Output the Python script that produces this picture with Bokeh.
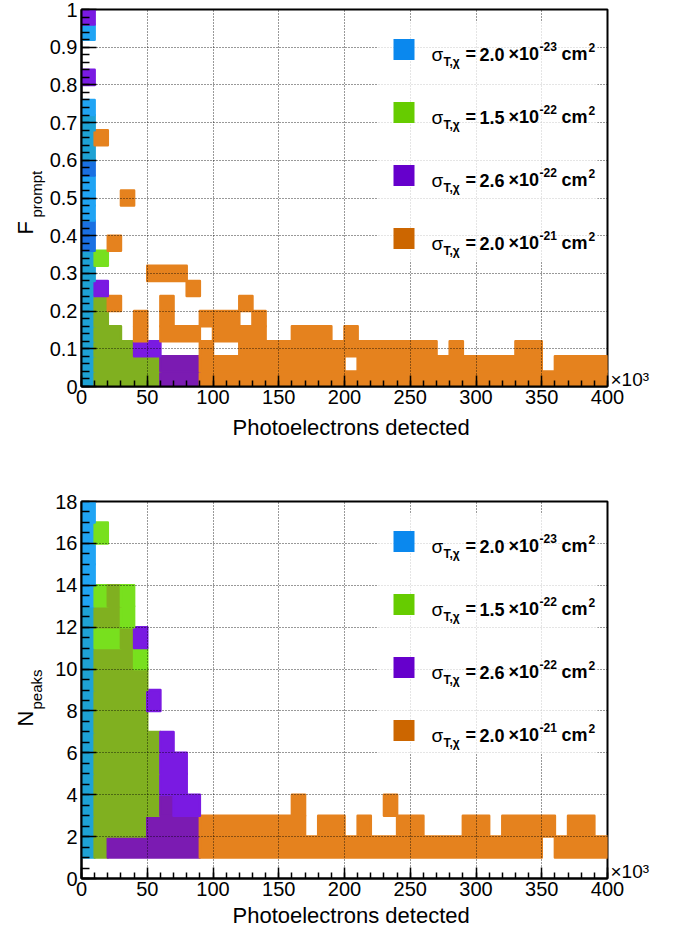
import numpy as np
from bokeh.plotting import figure
from bokeh.models import Range1d, FixedTicker, Label, BoxAnnotation, ColumnDataSource
from bokeh.layouts import column
from bokeh.embed import file_html
from bokeh.resources import INLINE

FONT = "Liberation Sans"

# ---------------- axis ticks / labels ----------------
x_ticks = [0, 50, 100, 150, 200, 250, 300, 350, 400]
x_tick_labels = ["0", "50", "100", "150", "200", "250", "300", "350", "400"]
x_minor = list(range(0, 401, 10))
f_ticks = [0, 0.1, 0.2, 0.3, 0.4, 0.5, 0.6, 0.7, 0.8, 0.9, 1.0]
f_tick_labels = ["0", "0.1", "0.2", "0.3", "0.4", "0.5", "0.6", "0.7", "0.8", "0.9", "1"]
f_minor = [round(i * 0.02, 2) for i in range(51)]
n_ticks = [0, 2, 4, 6, 8, 10, 12, 14, 16, 18]
n_tick_labels = ["0", "2", "4", "6", "8", "10", "12", "14", "16", "18"]
n_minor = [i * 0.5 for i in range(37)]

# ---------------- legend ----------------
legend_values = ["2.0", "1.5", "2.6", "2.0"]
legend_exponents = ["-23", "-22", "-22", "-21"]

# ---------------- F_prompt histogram cells (x in 10^3 PE) ----------------
fp_blue_x0 = [0, 0]
fp_blue_x1 = [10, 10]
fp_blue_y0 = [0.00, 0.92]
fp_blue_y1 = [0.76, 0.96]

fp_green_x0 = [0, 0, 10, 10, 20, 30, 40]
fp_green_x1 = [10, 10, 20, 20, 30, 40, 60]
fp_green_y0 = [0.00, 0.60, 0.00, 0.32, 0.00, 0.00, 0.00]
fp_green_y1 = [0.36, 0.72, 0.24, 0.36, 0.16, 0.12, 0.08]

fp_purple_x0 = [0, 0, 0, 0, 10, 20, 30, 40, 60]
fp_purple_x1 = [10, 10, 10, 10, 20, 30, 40, 60, 90]
fp_purple_y0 = [0.36, 0.56, 0.80, 0.96, 0.00, 0.00, 0.00, 0.00, 0.00]
fp_purple_y1 = [0.44, 0.60, 0.84, 1.00, 0.28, 0.16, 0.12, 0.12, 0.08]

fp_orange_x0 = [10, 20, 20, 30, 40, 50, 60, 70, 80, 60,
                90, 90, 100, 100, 120, 120, 130, 140, 160, 190,
                200, 200, 210, 270, 280, 290, 330, 350, 360]
fp_orange_x1 = [20, 30, 30, 40, 50, 80, 70, 90, 90, 90,
                100, 100, 120, 120, 130, 130, 140, 160, 190, 200,
                210, 210, 270, 280, 290, 330, 350, 360, 400]
fp_orange_y0 = [0.64, 0.20, 0.36, 0.48, 0.12, 0.28, 0.12, 0.12, 0.24, 0.00,
                0.00, 0.16, 0.00, 0.12, 0.00, 0.20, 0.00, 0.00, 0.00, 0.00,
                0.00, 0.08, 0.00, 0.00, 0.00, 0.00, 0.00, 0.00, 0.00]
fp_orange_y1 = [0.68, 0.24, 0.40, 0.52, 0.20, 0.32, 0.24, 0.16, 0.28, 0.08,
                0.12, 0.20, 0.08, 0.20, 0.16, 0.24, 0.20, 0.12, 0.16, 0.12,
                0.04, 0.16, 0.12, 0.08, 0.12, 0.08, 0.12, 0.04, 0.08]

# ---------------- N_peaks histogram cells ----------------
np_blue_x0 = [0]
np_blue_x1 = [10]
np_blue_y0 = [1]
np_blue_y1 = [18]

np_green_x0 = [0, 10, 10, 20, 40, 50]
np_green_x1 = [10, 20, 20, 40, 50, 60]
np_green_y0 = [1, 1, 16, 2, 2, 3]
np_green_y1 = [13, 14, 17, 14, 11, 7]

np_purple_x0 = [10, 10, 20, 20, 30, 40, 40, 50, 50, 60, 70, 80]
np_purple_x1 = [20, 20, 30, 30, 40, 50, 50, 60, 60, 70, 80, 90]
np_purple_y0 = [1, 12, 1, 12, 1, 1, 11, 1, 8, 1, 1, 1]
np_purple_y1 = [11, 13, 11, 14, 12, 10, 12, 7, 9, 7, 6, 4]

np_orange_x0 = [20, 60, 70, 160, 170, 180, 200, 210, 220, 230, 230, 240, 260, 290, 310, 320, 350, 360, 370, 390]
np_orange_x1 = [60, 70, 160, 170, 180, 200, 210, 220, 230, 240, 240, 260, 290, 310, 320, 350, 360, 370, 390, 400]
np_orange_y0 = [1, 1, 1, 1, 1, 1, 1, 1, 1, 1, 3, 1, 1, 1, 1, 1, 2, 1, 1, 1]
np_orange_y1 = [3, 4, 3, 4, 2, 3, 2, 3, 2, 2, 4, 3, 2, 3, 2, 3, 3, 2, 3, 2]

# ---------------- styling ----------------
# drawn colour of a bin, keyed by the top two histograms present in it (top first)
COMBO = {
    ("orange",): "#e5821e",
    ("purple",): "#7a1ae2",
    ("purple", "orange"): "#7b1bb2",
    ("green",): "#78e01e",
    ("green", "purple"): "#80b020",
    ("green", "orange"): "#8cc81e",
    ("blue",): "#20a4f4",
    ("blue", "green"): "#1ea2d4",
    ("blue", "purple"): "#1a70e2",
    ("blue", "orange"): "#3c9be0",
}
LEG = {"blue": "#0a88ee", "green": "#66cc00", "purple": "#6600cc", "orange": "#cc6600"}
FW, FH = 526, 377
LEFT, RIGHT = 81, 73
TOP_FIRST = ["blue", "green", "purple", "orange"]


def to_data(dx, dy, ymax):
    return dx * 400.0 / FW, ymax * (1.0 - dy / FH)


def make_label(ymax, dx, dy, s, size, style="normal", angle=0.0, baseline="alphabetic"):
    x, y = to_data(dx, dy, ymax)
    return Label(x=x, y=y, text=s, text_font=FONT, text_font_size=f"{size}px",
                 text_font_style=style, text_baseline=baseline, text_align="left",
                 angle=angle, text_color="black")


def make_fig(ymax, height, top, bottom, yticks, ylabels, yminor):
    p = figure(width=680, height=height, x_range=Range1d(0, 400), y_range=Range1d(0, ymax),
               output_backend="svg", toolbar_location=None,
               min_border_left=LEFT, min_border_right=RIGHT,
               min_border_top=top, min_border_bottom=bottom)
    p.background_fill_color = "white"
    p.border_fill_color = "white"
    p.outline_line_color = "black"
    p.outline_line_width = 2
    p.xaxis.ticker = FixedTicker(ticks=x_ticks, minor_ticks=x_minor)
    p.xaxis.major_label_overrides = dict(zip(x_ticks, x_tick_labels))
    p.yaxis.ticker = FixedTicker(ticks=yticks, minor_ticks=yminor)
    p.yaxis.major_label_overrides = dict(zip(yticks, ylabels))
    for ax in (p.xaxis[0], p.yaxis[0]):
        ax.axis_line_width = 2
        ax.axis_line_color = "black"
        ax.major_tick_line_width = 1.5
        ax.minor_tick_line_width = 1.5
        ax.major_tick_out = 0
        ax.minor_tick_out = 0
        ax.major_label_text_font = FONT
        ax.major_label_text_font_size = "20px"
        ax.major_label_text_color = "black"
    p.xaxis.major_tick_in = 11
    p.xaxis.minor_tick_in = 6
    p.yaxis.major_tick_in = 15
    p.yaxis.minor_tick_in = 8
    p.xaxis.major_label_standoff = 3
    p.yaxis.major_label_standoff = 4
    p.grid.grid_line_color = "black"
    p.grid.grid_line_dash = "1 2"
    p.grid.grid_line_alpha = 0.8
    p.grid.grid_line_width = 1
    p.grid.level = "guide"
    return p


def draw_histograms(p, series, xbin, ybin, nx, ny):
    """Overlay the four 2D histograms on their common bin grid."""
    masks = {}
    for key, (x0, x1, y0, y1) in series.items():
        m = np.zeros((nx, ny), dtype=bool)
        for a, b, c, d in zip(x0, x1, y0, y1):
            m[int(round(a / xbin)):int(round(b / xbin)), int(round(c / ybin)):int(round(d / ybin))] = True
        masks[key] = m
    colors = [[None] * ny for _ in range(nx)]
    for i in range(nx):
        for j in range(ny):
            present = [k for k in TOP_FIRST if masks[k][i, j]]
            if present:
                key = tuple(present[:2])
                colors[i][j] = COMBO.get(key, COMBO[(present[0],)])
    L, R, B, T, C = [], [], [], [], []
    for j in range(ny):
        i = 0
        while i < nx:
            col = colors[i][j]
            if col is None:
                i += 1
                continue
            k = i
            while k + 1 < nx and colors[k + 1][j] == col:
                k += 1
            L.append(i * xbin)
            R.append((k + 1) * xbin)
            B.append(j * ybin)
            T.append((j + 1) * ybin)
            C.append(col)
            i = k + 1
    src = ColumnDataSource(dict(left=L, right=R, bottom=B, top=T, color=C))
    p.quad(left="left", right="right", bottom="bottom", top="top", source=src,
           fill_color="color", line_color="color", line_width=2.5, line_join="round")


def add_legend(p, ymax):
    x0, y0 = to_data(296, 12, ymax)
    x1, y1 = to_data(516, 252, ymax)
    p.add_layout(BoxAnnotation(left=x0, right=x1, top=y0, bottom=y1, fill_color="white",
                               fill_alpha=0.75, line_color=None, level="annotation"))
    for i, key in enumerate(["blue", "green", "purple", "orange"]):
        c = 40 + 63 * i
        lx, ty = to_data(312, c - 10.5, ymax)
        rx, by = to_data(333, c + 10.5, ymax)
        p.add_layout(BoxAnnotation(left=lx, right=rx, top=ty, bottom=by, fill_color=LEG[key],
                                   fill_alpha=1.0, line_color=None, level="annotation"))
        p.add_layout(make_label(ymax, 350, c + 4.5, "σ", 19))
        p.add_layout(make_label(ymax, 362, c + 12, "T,χ", 12, "bold"))
        p.add_layout(make_label(ymax, 384, c + 4.5, "=", 18, "bold"))
        p.add_layout(make_label(ymax, 398, c + 4.5, legend_values[i], 18, "bold"))
        p.add_layout(make_label(ymax, 427, c + 4.5, "×10", 18, "bold"))
        p.add_layout(make_label(ymax, 458, c - 3.5, legend_exponents[i], 12, "bold"))
        p.add_layout(make_label(ymax, 480, c + 4.5, "cm", 18, "bold"))
        p.add_layout(make_label(ymax, 507, c - 2, "2", 12, "bold"))


def add_titles(p, ymax, big, sub, title_dy):
    p.add_layout(make_label(ymax, 529, 370, "×10³", 19, baseline="middle"), "right")
    p.add_layout(make_label(ymax, 151, title_dy, "Photoelectrons detected", 22, baseline="middle"), "below")
    p.add_layout(make_label(ymax, -56, 225, big, 22, angle=1.5707963, baseline="middle"), "left")
    p.add_layout(make_label(ymax, -45, 208, sub, 15, angle=1.5707963, baseline="middle"), "left")


# ---------------- top: F_prompt ----------------
p1 = make_fig(1.0, 466, 9, 80, f_ticks, f_tick_labels, f_minor)
draw_histograms(p1, {
    "orange": (fp_orange_x0, fp_orange_x1, fp_orange_y0, fp_orange_y1),
    "purple": (fp_purple_x0, fp_purple_x1, fp_purple_y0, fp_purple_y1),
    "green": (fp_green_x0, fp_green_x1, fp_green_y0, fp_green_y1),
    "blue": (fp_blue_x0, fp_blue_x1, fp_blue_y0, fp_blue_y1),
}, 10, 0.04, 40, 25)
add_legend(p1, 1.0)
add_titles(p1, 1.0, "F", "prompt", 418)

# ---------------- bottom: N_peaks ----------------
p2 = make_fig(18.0, 467, 35, 55, n_ticks, n_tick_labels, n_minor)
draw_histograms(p2, {
    "orange": (np_orange_x0, np_orange_x1, np_orange_y0, np_orange_y1),
    "purple": (np_purple_x0, np_purple_x1, np_purple_y0, np_purple_y1),
    "green": (np_green_x0, np_green_x1, np_green_y0, np_green_y1),
    "blue": (np_blue_x0, np_blue_x1, np_blue_y0, np_blue_y1),
}, 10, 1, 40, 18)
add_legend(p2, 18.0)
add_titles(p2, 18.0, "N", "peaks", 414)

layout = column(p1, p2, spacing=0)
open("out.html", "w").write(file_html(layout, INLINE))
